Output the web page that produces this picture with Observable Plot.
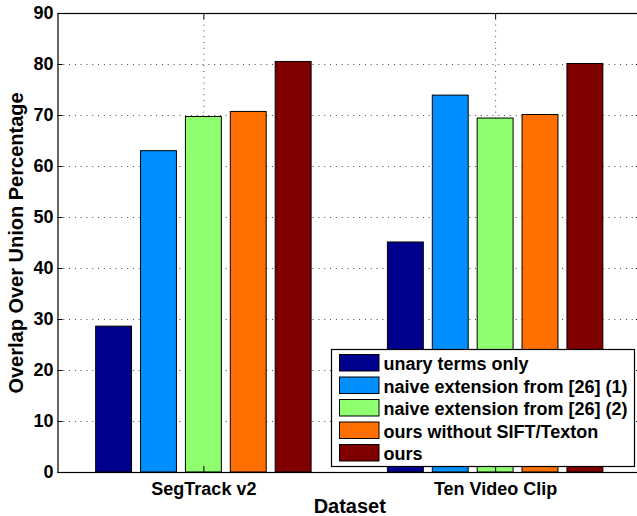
<!DOCTYPE html>
<html>
<head>
<meta charset="utf-8">
<script src="https://cdn.jsdelivr.net/npm/d3@7"></script>
<script src="https://cdn.jsdelivr.net/npm/@observablehq/plot@0.6"></script>
<style>
  html, body { margin: 0; padding: 0; background: white; overflow: hidden; }
  #chart svg { max-width: none !important; display: block; }
</style>
</head>
<body>
<div id="chart"></div>
<script>
// ---- data ----
const categories = ["SegTrack v2", "Ten Video Clip"];
const methods = [
  "unary terms only",
  "naive extension from [26] (1)",
  "naive extension from [26] (2)",
  "ours without SIFT/Texton",
  "ours"
];
const segTrackValues = [28.6, 63.0, 69.7, 70.7, 80.5];
const tenVideoValues = [45.1, 73.9, 69.4, 70.1, 80.1];
const methodColors = ["#00008f", "#008fff", "#8fff70", "#ff7000", "#800000"];
const yTicks = [0, 10, 20, 30, 40, 50, 60, 70, 80, 90];
const yTitle = "Overlap Over Union Percentage";
const xTitle = "Dataset";

// ---- layout ----
const W = 641, H = 516;
const mL = 57.5, mR = 0, mT = 13, mB = 44;
const xDom = [0.5, 2.5], yDom = [0, 90];
const plotW = W - mL - mR, plotH = H - mT - mB;
const nSeries = methods.length;
const groupWidth = Math.min(0.8, nSeries / (nSeries + 1.5));
const step = groupWidth / nSeries;
const barW = 0.8 * step;
const tickLenX = 5 * (xDom[1] - xDom[0]) / plotW;
const tickLenY = 6 * (yDom[1] - yDom[0]) / plotH;

const seriesByCategory = [segTrackValues, tenVideoValues];
const rows = [];
categories.forEach((c, ci) => {
  methods.forEach((m, mi) => {
    const center = ci + 1 + (mi - (nSeries - 1) / 2) * step;
    rows.push({category: c, method: m, value: seriesByCategory[ci][mi],
               x1: center - barW / 2, x2: center + barW / 2});
  });
});

const gridY = yTicks.slice(1, -1);
const catPos = categories.map((c, i) => i + 1);
const font = "'Liberation Sans', Arial, Helvetica, sans-serif";

const chart = Plot.plot({
  width: W, height: H,
  marginLeft: mL, marginRight: mR, marginTop: mT, marginBottom: mB,
  style: {fontFamily: font, color: "black", background: "white", maxWidth: "none"},
  x: {type: "linear", domain: xDom, axis: null},
  y: {domain: yDom, axis: null},
  color: {domain: methods, range: methodColors},
  marks: [
    Plot.ruleY(gridY, {stroke: "#444", strokeWidth: 1, strokeDasharray: "1,4.8"}),
    Plot.ruleX(catPos, {stroke: "#444", strokeWidth: 1, strokeDasharray: "1,4.8"}),
    Plot.rect(rows, {x1: "x1", x2: "x2", y1: 0, y2: "value", fill: "method",
                     stroke: "black", strokeWidth: 1}),
    // inward ticks
    Plot.ruleY(yTicks, {x1: xDom[0], x2: xDom[0] + tickLenX, stroke: "black"}),
    Plot.ruleY(yTicks, {x1: xDom[1] - tickLenX, x2: xDom[1], stroke: "black"}),
    Plot.ruleX(catPos, {y1: yDom[1], y2: yDom[1] - tickLenY, stroke: "black"}),
    Plot.ruleX(catPos, {y1: yDom[0], y2: yDom[0] + tickLenY, stroke: "black"}),
    Plot.frame({stroke: "black", strokeWidth: 1.2}),
    // tick labels
    Plot.text(yTicks, {frameAnchor: "left", y: d => d, text: d => String(d),
                       textAnchor: "end", dx: -4.5, fontSize: 18, fontWeight: "bold", fill: "black"}),
    Plot.text(categories, {x: (d, i) => i + 1, frameAnchor: "bottom", text: d => d,
                           lineAnchor: "top", dy: 10, fontSize: 18, fontWeight: "bold", fill: "black"}),
    Plot.text([xTitle], {frameAnchor: "bottom", text: d => d, lineAnchor: "top", dy: 26.5,
                         fontSize: 20, fontWeight: "bold", fill: "black"}),
    Plot.text([yTitle], {frameAnchor: "left", text: d => d, rotate: -90, dx: -41.5,
                         textAnchor: "middle", fontSize: 20, fontWeight: "bold", fill: "black"})
  ]
});

document.getElementById("chart").appendChild(chart);

// ---- legend (drawn in the same SVG, colours from the plot's colour scale) ----
const color = chart.scale("color");
const svg = d3.select(chart);
const lg = svg.append("g").attr("font-family", font).attr("font-weight", "bold")
  .attr("font-size", 18).attr("text-anchor", "start");
const box = {x: 331.5, y: 349.5, w: 303, h: 117};
lg.append("rect").attr("x", box.x).attr("y", box.y).attr("width", box.w).attr("height", box.h)
  .attr("fill", "white").attr("stroke", "black").attr("stroke-width", 1.2);
methods.forEach((m, i) => {
  const y0 = 354.5 + i * 22.5;
  lg.append("rect").attr("x", 339.5).attr("y", y0).attr("width", 39.5).attr("height", 16.5)
    .attr("fill", color.range[color.domain.indexOf(m)]).attr("stroke", "black").attr("stroke-width", 1);
  lg.append("text").attr("x", 383.5).attr("y", y0 + 15.5).attr("fill", "black").text(m);
});
</script>
</body>
</html>
